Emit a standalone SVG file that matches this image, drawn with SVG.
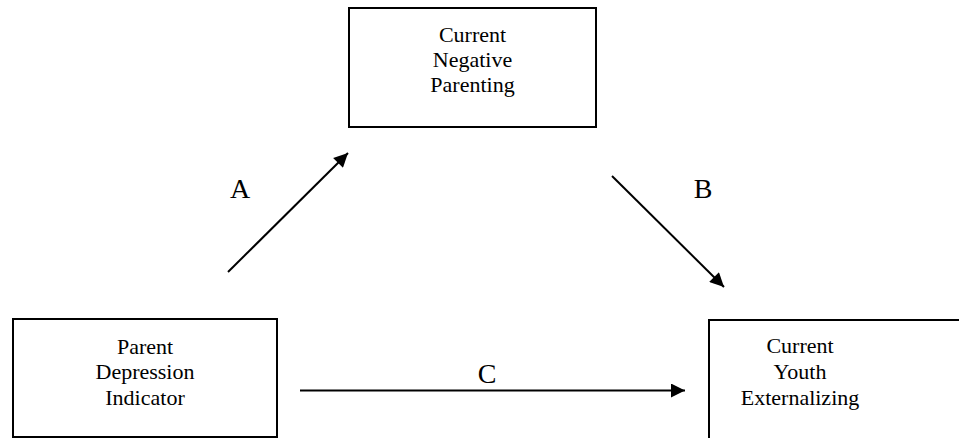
<svg xmlns="http://www.w3.org/2000/svg" width="959" height="438" viewBox="0 0 959 438">
<style>
.box{fill:#fff;stroke:#000;stroke-width:2}
.t{font-family:"Liberation Serif","Times New Roman",serif;font-size:22px;fill:#000;text-anchor:middle}
.lab{font-family:"Liberation Serif","Times New Roman",serif;font-size:28px;fill:#000;text-anchor:middle}
.edge{stroke:#000;stroke-width:2;fill:none;marker-end:url(#ah)}
</style>
<defs>
<marker id="ah" viewBox="0 0 10 10" refX="10" refY="5" markerWidth="9" markerHeight="7" markerUnits="strokeWidth" orient="auto">
<path d="M0,0 L10,5 L0,10 z" fill="#000"/>
</marker>
</defs>
<rect width="959" height="438" fill="#fff"/>
<g id="node-negative-parenting">
<rect class="box" x="349" y="8" width="247" height="119"/>
<text class="t" x="472.5" y="42">Current</text>
<text class="t" x="472.5" y="67">Negative</text>
<text class="t" x="472.5" y="92">Parenting</text>
</g>
<g id="node-parent-depression">
<rect class="box" x="13" y="319" width="264" height="118"/>
<text class="t" x="145" y="354">Parent</text>
<text class="t" x="145" y="379">Depression</text>
<text class="t" x="145" y="405">Indicator</text>
</g>
<g id="node-youth-externalizing">
<rect class="box" x="709" y="320" width="270" height="130"/>
<text class="t" x="800" y="353">Current</text>
<text class="t" x="800" y="379">Youth</text>
<text class="t" x="800" y="405">Externalizing</text>
</g>
<g id="connectors">
<line class="edge" x1="228" y1="272" x2="348" y2="153"/>
<line class="edge" x1="612" y1="176" x2="724" y2="287"/>
<line class="edge" x1="300" y1="390.5" x2="685" y2="390.5"/>
<text class="lab" x="240" y="198">A</text>
<text class="lab" x="703" y="198">B</text>
<text class="lab" x="487" y="383">C</text>
</g>
</svg>
